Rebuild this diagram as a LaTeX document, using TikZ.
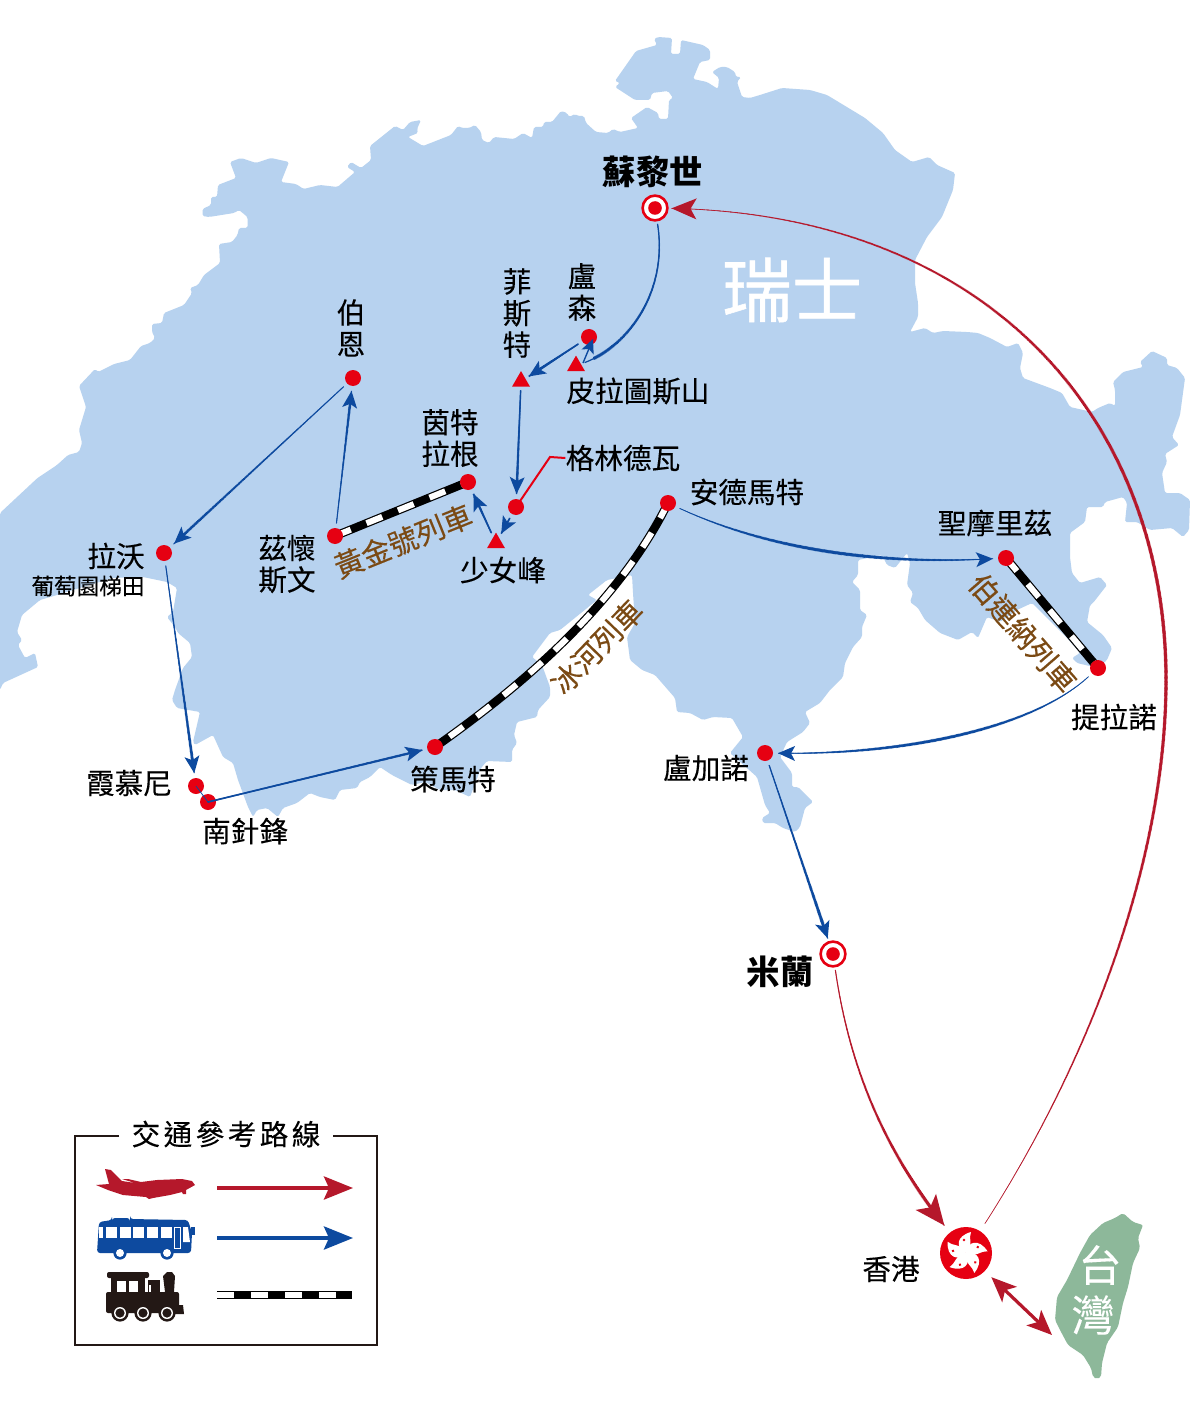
\documentclass[tikz,border=0pt]{standalone}
\usepackage{fontspec}
\setmainfont{Noto Sans CJK TC}[FakeBold=0.2,BoldFeatures={FakeBold=0}]
\usetikzlibrary{arrows.meta,shapes.geometric,decorations.markings}
\definecolor{mapblue}{HTML}{B7D2EF}
\definecolor{dotred}{HTML}{E60012}
\definecolor{airred}{HTML}{B5182B}
\definecolor{busblue}{HTML}{0D4A9F}
\definecolor{trainbrown}{HTML}{7B4A14}
\definecolor{twgreen}{HTML}{8DB89A}
\definecolor{inkdark}{HTML}{231815}
\pgfdeclarelayer{bg}
\pgfsetlayers{bg,main}
\tikzset{
  dotn/.style={circle,fill=dotred,minimum size=8pt,inner sep=0pt,outer sep=2.5pt},
  trin/.style={regular polygon,regular polygon sides=3,fill=dotred,minimum size=10.4pt,inner sep=0pt,outer sep=2pt},
  targetn/.style={circle,draw=dotred,line width=1.3pt,fill=white,minimum size=12.4pt,inner sep=0pt,outer sep=2pt,
    path picture={\fill[dotred] (path picture bounding box.center) circle (3.4pt);}},
  lab/.style={inner sep=0pt,font=\fontsize{14.3}{15.8}\selectfont,align=center,text=black},
  smalllab/.style={inner sep=0pt,font=\fontsize{11.3}{12}\selectfont,text=black},
  boldlab/.style={inner sep=0pt,font=\fontsize{16.7}{18}\selectfont\bfseries,text=black},
  brownlab/.style={inner sep=0pt,font=\fontsize{14.6}{16}\selectfont,text=trainbrown},
  whitelab/.style={inner sep=0pt,font=\fontsize{21.5}{22}\selectfont,text=white},
  train/.style={draw=black,line width=4.2pt,postaction={draw=white,line width=3pt,dash pattern=on 8.5pt off 8.5pt}},
  headmark/.style n args={4}{postaction={decorate,decoration={markings,
    mark=at position 0.9999 with {%
      \pgfsetfillcolor{#4}%
      \pgfpathmoveto{\pgfpointorigin}%
      \pgfpathlineto{\pgfpoint{-#1pt}{#2pt/2}}%
      \pgfpathlineto{\pgfpoint{-#1pt+#3pt}{0pt}}%
      \pgfpathlineto{\pgfpoint{-#1pt}{-#2pt/2}}%
      \pgfpathclose\pgfusepath{fill}}}}},
  bushead/.style={headmark={8.5}{7.5}{2}{busblue}},
  airhead/.style={headmark={12.5}{10.5}{3}{airred}},
  bighead/.style={headmark={15}{13}{3.5}{airred}},
  taper/.style n args={3}{line width=#1pt,draw=#3,postaction={decorate,decoration={markings,
    mark=between positions 0 and -5pt step .6pt with {%
      \pgfmathsetmacro\tapf{\pgfkeysvalueof{/pgf/decoration/mark info/distance from start}/\pgfdecoratedpathlength}%
      \pgfmathsetmacro\tapr{0.5*(#1+(#2-#1)*\tapf)}%
      \pgfsetfillcolor{#3}\pgfpathcircle{\pgfpointorigin}{\tapr pt}\pgfusepath{fill}}}}},
  spindle/.style n args={3}{line width=#1pt,draw=#3,postaction={decorate,decoration={markings,
    mark=between positions 0 and -5pt step .6pt with {%
      \pgfmathsetmacro\tapf{\pgfkeysvalueof{/pgf/decoration/mark info/distance from start}/\pgfdecoratedpathlength}%
      \pgfmathsetmacro\tapr{0.5*(#1+(#2-#1)*sin(180*\tapf))}%
      \pgfsetfillcolor{#3}\pgfpathcircle{\pgfpointorigin}{\tapr pt}\pgfusepath{fill}}}}},
}
\begin{document}
\begin{tikzpicture}[x=0.5pt,y=-0.5pt]
\useasboundingbox (0,0) rectangle (1200,1417);
% ---- points of the route
\node[targetn] (zur) at (655,208) {};
\node[targetn] (mil) at (833,954) {};
\node[dotn] (ber) at (353,378) {};
\node[dotn] (int) at (468,482) {};
\node[dotn] (zwe) at (335,536) {};
\node[dotn] (lav) at (164,553) {};
\node[dotn] (cha) at (196,786) {};
\node[dotn] (aig) at (208,802) {};
\node[dotn] (zer) at (435,747) {};
\node[dotn] (and) at (668,503) {};
\node[dotn] (smo) at (1006,558) {};
\node[dotn] (tir) at (1098,668) {};
\node[dotn] (lug) at (765,753) {};
\node[dotn] (gri) at (516,507) {};
\node[dotn] (luz) at (589,337) {};
\node[trin] (fie) at (521,381.5) {};
\node[trin] (pil) at (576,366) {};
\node[trin] (jun) at (496,543) {};
\node[circle,fill=dotred,minimum size=26pt,inner sep=0pt,outer sep=4.5pt] (hkg) at (966,1253) {};
\foreach \a in {0,72,144,216,288}{
  \begin{scope}[shift={(966,1253)},rotate=\a]
    \fill[white] (0,0) .. controls (-11,-5) and (-10,-17) .. (5,-21) .. controls (2,-15) and (8,-8) .. (0,0) -- cycle;
    \fill[dotred] (-2,-13) circle (0.7pt);
  \end{scope}}
% ---- map, trains
\begin{pgfonlayer}{bg}
\fill[white] (0,0) rectangle (1200,1417);
\fill[mapblue,rounded corners=0.8pt] (0,513) -- (37.5,478) -- (57,465) -- (68,455) -- (79,452) -- (82,443) -- (79,430) -- (86,407) -- (79,386) -- (95,369) -- (98,372) -- (114,364) -- (130,360) -- (141,346) -- (150,343) -- (155,338) -- (152,332) -- (152,324) -- (162,323) -- (164,313) -- (184,305) -- (192,293) -- (190,288) -- (198,285) -- (204,275) -- (220,263) -- (219,244) -- (232,242) -- (237.5,235) -- (239,228) -- (247.5,228) -- (247.5,217) -- (239,210) -- (234,213) -- (209,217) -- (202.5,216) -- (202.5,209) -- (211,205) -- (211,197) -- (217,197) -- (218,185) -- (236,178) -- (230,162) -- (241,158) -- (256,163) -- (271,158) -- (289,162) -- (281,182) -- (296,184) -- (303.5,189) -- (320,185) -- (337.5,187) -- (355,172) -- (347,167) -- (351,162) -- (361,168) -- (371,160) -- (370,146) -- (395,126) -- (403,130) -- (410,122) -- (421,120) -- (417,129) -- (418,133) -- (408,137) -- (423,146) -- (451,135) -- (458,126) -- (462,128) -- (469,128) -- (475,125) -- (481,132) -- (482,140) -- (489,143) -- (494,137) -- (514,139) -- (523,133) -- (532,138) -- (534,127) -- (543,127) -- (544,122) -- (552,122) -- (561,111) -- (567,113) -- (569,117) -- (575,114) -- (578,116) -- (584,116) -- (586,123) -- (596,132) -- (608,133) -- (613,129) -- (620,132) -- (638,128) -- (631,118) -- (647,107) -- (658,113) -- (659,119) -- (668,119) -- (669,100) -- (673,98) -- (668,91) -- (652,93) -- (650,100) -- (635,100) -- (615,87) -- (620,83) -- (615,81) -- (636,51) -- (657,45) -- (654,39) -- (658,37) -- (672,38) -- (671,54) -- (680,54) -- (681,40) -- (703,45) -- (710,50) -- (710,60) -- (700,62) -- (693,79) -- (707,82) -- (718,89) -- (719,78) -- (712,72) -- (720,67) -- (727,67) -- (735,72) -- (736,77) -- (741,77) -- (737,82) -- (742,97) -- (750,98) -- (760,95) -- (782,88) -- (810,90) -- (827,95) -- (865,118) -- (883,133) -- (895,150) -- (912,162) -- (929,157) -- (937,165) -- (955,173) -- (953,190) -- (942,217) -- (927,237) -- (915,260) -- (915,283) -- (918,303) -- (918,317) -- (910,332) -- (925,328) -- (933,333) -- (943,331) -- (967,332) -- (978,333) -- (990,338) -- (1007,347) -- (1018,343) -- (1023,353) -- (1020,368) -- (1023,378) -- (1050,388) -- (1062,393) -- (1070,407) -- (1092,412) -- (1098,408) -- (1110,403) -- (1115,406) -- (1115,390) -- (1113,382) -- (1123,372) -- (1143,367) -- (1140,362) -- (1152,351) -- (1167,358) -- (1167,365) -- (1177,368) -- (1185,378) -- (1180,415) -- (1172,437) -- (1179,445) -- (1165,454) -- (1167,462) -- (1162,473) -- (1165,493) -- (1180,493) -- (1190,500) -- (1189,530) -- (1183,537) -- (1172,528) -- (1150,530) -- (1137,522) -- (1125,522) -- (1127,503) -- (1123,497) -- (1105,502) -- (1103,507) -- (1087,507) -- (1085,522) -- (1070,533) -- (1070,557) -- (1072,573) -- (1080,583) -- (1100,577) -- (1107,585) -- (1093,603) -- (1090,605) -- (1087,622) -- (1103,635) -- (1112,648) -- (1107,660) -- (1098,668) -- (1077,663) -- (1072,658) -- (1080,653) -- (1067,638) -- (1032,603) -- (1017,610) -- (1000,622) -- (987,617) -- (978,638) -- (972,632) -- (958,640) -- (940,633) -- (925,620) -- (918,608) -- (910,602) -- (913,593) -- (907,585) -- (910,563) -- (907,553) -- (895,568) -- (887,565) -- (882,555) -- (858,560) -- (858,575) -- (852,582) -- (860,590) -- (860,610) -- (867,615) -- (862,627) -- (862,637) -- (853,647) -- (845,663) -- (843,677) -- (830,690) -- (820,703) -- (805,712) -- (810,723) -- (803,732) -- (787,742) -- (780,757) -- (792,773) -- (792,787) -- (798,787) -- (813,802) -- (805,808) -- (800,827) -- (795,832) -- (783,828) -- (775,823) -- (763,823) -- (762,818) -- (770,813) -- (765,805) -- (757,777) -- (730,753) -- (743,737) -- (732,718) -- (713,717) -- (703,720) -- (690,713) -- (677,712) -- (675,698) -- (655,675) -- (642,670) -- (630,660) -- (627,637) -- (635,623) -- (633,593) -- (632,575) -- (607,580) -- (588,595) -- (597,600) -- (560,630) -- (550,633) -- (532,657) -- (542,665) -- (550,687) -- (550,697) -- (538,710) -- (537,717) -- (517,722) -- (514,735) -- (517,743) -- (512,750) -- (512,762) -- (487,761) -- (481,768) -- (470,797) -- (455,790) -- (440,790) -- (425,782) -- (412,785) -- (392,775) -- (380,767) -- (370,777) -- (360,782) -- (357,788) -- (340,790) -- (335,800) -- (320,797) -- (310,793) -- (297,803) -- (283,808) -- (278,817) -- (267,808) -- (257,810) -- (253,817) -- (248,807) -- (238,780) -- (233,763) -- (223,757) -- (213,735) -- (195,745) -- (193,742) -- (200,712) -- (177,708) -- (172,700) -- (175,690) -- (183,668) -- (192,657) -- (190,643) -- (178,633) -- (175,627) -- (167,617) -- (173,612) -- (177,588) -- (167,582) -- (143,577) -- (112,578) -- (57,595) -- (40,600) -- (22,615) -- (17,632) -- (22,640) -- (18,645) -- (25,658) -- (35,653) -- (38,667) -- (3,683) -- (0,690) -- cycle;
\path[train] (zwe.center) -- (int.center);
\path[train] (and.center) .. controls (620,600) and (530,680) .. (zer.center);
\path[train] (smo.center) -- (tir.center);
\end{pgfonlayer}
% ---- taiwan
\fill[twgreen,rounded corners=1pt] (1123,1213) -- (1133,1222) -- (1143,1225) -- (1138,1238) -- (1140,1248) -- (1133,1263) -- (1128,1287) -- (1123,1303) -- (1118,1327) -- (1107,1343) -- (1102,1363) -- (1101,1377) -- (1097,1379) -- (1093,1377) -- (1091,1368) -- (1083,1355) -- (1068,1345) -- (1060,1330) -- (1055,1320) -- (1057,1297) -- (1067,1280) -- (1080,1253) -- (1090,1235) -- (1103,1223) -- (1115,1218) -- cycle;
\coordinate (twn) at (1052,1335);
% ---- air routes
\draw[spindle={0.3}{1.9}{airred},airhead] (hkg) .. controls (1090,1060) and (1166,860) .. (1166,680) .. controls (1166,420) and (990,215) .. (zur);
\draw[taper={0.5}{2.1}{airred},bighead] (mil) .. controls (850,1070) and (885,1150) .. (hkg);
\draw[airred,line width=1.6pt,{Stealth[length=12.5pt,width=10.5pt,inset=3pt]}-{Stealth[length=12.5pt,width=10.5pt,inset=3pt]}] (hkg) -- (twn);
% ---- coach routes
\draw[taper={0.6}{1.9}{busblue}] (zur) .. controls (668,290) and (630,345) .. (pil);
\coordinate (pilA) at (583,363);
\coordinate (luzA) at (593,339);
\draw[line width=.7pt,busblue,-{Stealth[length=7pt,width=6.5pt,inset=1.6pt]}] (pilA) -- (luzA);
\draw[taper={0.8}{1.9}{busblue},bushead] (luz) -- (fie);
\draw[taper={0.7}{1.6}{busblue},bushead] (fie) -- (gri);
\draw[taper={0.8}{1.7}{busblue},bushead] (gri) -- (jun);
\draw[taper={0.8}{1.7}{busblue},bushead] (jun) -- (int);
\draw[taper={0.5}{1.6}{busblue},bushead] (zwe) -- (ber);
\draw[taper={0.5}{1.7}{busblue},bushead] (ber) -- (lav);
\draw[taper={0.5}{1.7}{busblue},bushead] (lav) -- (cha);
\draw[line width=.4pt,busblue] (cha.center) -- (aig.center);
\draw[taper={0.8}{1.4}{busblue},bushead] (aig.center) -- (zer);
\draw[spindle={0.4}{1.8}{busblue},bushead] (and) .. controls (770,550) and (880,565) .. (smo);
\draw[spindle={0.4}{1.7}{busblue},bushead] (tir) .. controls (1030,730) and (900,755) .. (lug);
\draw[taper={0.6}{1.9}{busblue},bushead] (lug) -- (mil);
% ---- labels
\node[boldlab] (lzur) at (653,172) {蘇黎世};
\node[boldlab] (lmil) at (780,972) {米蘭};
\node[inner sep=0pt,font=\fontsize{35}{36}\selectfont\addfontfeature{FakeBold=0.8},text=white] (lch) at (792,290) {瑞士};
\node[lab] (lluz) at (582,292) {盧\\森};
\node[lab] (lfie) at (517,313) {菲\\斯\\特};
\node[lab] (lpil) at (638,391) {皮拉圖斯山};
\node[lab] (lber) at (351,328) {伯\\恩};
\node[lab] (lint) at (450,438) {茵特\\拉根};
\node[lab] (lgri) at (623,458) {格林德瓦};
\node[lab] (land) at (747,492) {安德馬特};
\node[lab] (ljun) at (503,570) {少女峰};
\node[lab] (lzwe) at (287,564) {茲懷\\斯文};
\node[lab] (llav) at (116,556) {拉沃};
\node[smalllab] (llav2) at (88,586) {葡萄園梯田};
\node[lab] (lcha) at (129,783) {霞慕尼};
\node[lab] (laig) at (245,831) {南針鋒};
\node[lab] (lzer) at (453,779) {策馬特};
\node[lab] (llug) at (706,768) {盧加諾};
\node[lab] (lsmo) at (995,523) {聖摩里茲};
\node[lab] (ltir) at (1114,717) {提拉諾};
\node[lab] (lhkg) at (891,1269) {香港};
\node[whitelab] (ltw1) at (1100,1265) {台};
\node[whitelab] (ltw2) at (1093,1315) {灣};
\node[brownlab,rotate=22] (tr1) at (403,541) {黃金號列車};
\node[brownlab,rotate=46] (tr2) at (597,647) {冰河列車};
\node[brownlab,rotate=-49] (tr3) at (1023,633) {伯連納列車};
\coordinate (griB) at (550,457);
\draw[dotred,line width=1pt] (gri.center) -- (griB) -- (lgri.west);
% ---- legend
\node[inner sep=0pt,font=\fontsize{14.3}{15}\selectfont\addfontfeature{LetterSpace=12}] (ltitle) at (226,1134) {交通參考路線};
\draw[inkdark,line width=1pt] (119,1136) -- (75,1136) -- (75,1345) -- (377,1345) -- (377,1136) -- (333,1136);
\coordinate (a1) at (217,1188); \coordinate (a2) at (353,1188);
\coordinate (b1) at (217,1238); \coordinate (b2) at (353,1238);
\coordinate (c1) at (217,1295); \coordinate (c2) at (352,1295);
\draw[airred,line width=2pt,-{Stealth[length=14.5pt,width=11.5pt,inset=2.5pt]}] (a1) -- (a2);
\draw[busblue,line width=2pt,-{Stealth[length=14.5pt,width=11.5pt,inset=2.5pt]}] (b1) -- (b2);
\path[train] (c1) -- (c2);
% plane icon
\fill[airred] (105,1169) -- (111,1170) -- (122,1181) -- (135,1183) -- (122,1179) -- (128,1179) -- (141,1182) -- (157,1180) -- (182,1179) -- (192,1181) -- (195,1185) -- (186,1190) -- (186,1194) -- (183,1194) -- (182,1192) -- (170,1195) -- (153,1198) -- (149,1199) -- (146,1197) -- (123,1195) -- (108,1190) -- (96,1185) -- (109,1184) -- cycle;
% coach icon
\fill[busblue,rounded corners=1.5pt] (97,1253) -- (99,1222) -- (112,1220) -- (112,1218) -- (130,1218) -- (130,1219) -- (188,1220) -- (192,1233) -- (191,1253) -- cycle;
\fill[busblue] (191,1227) rectangle (195,1235);
\foreach \wx in {106,120,133,147,161}{\fill[white] (\wx,1227) rectangle +(11,11);}
\fill[white] (99,1227) rectangle (103,1238);
\draw[white,line width=.3pt] (174,1227) rectangle (180,1248);
\fill[white] (183,1227) -- (188,1227) -- (190,1242) -- (183,1242) -- cycle;
\foreach \wx in {120,167}{\fill[busblue] (\wx,1253) circle (3.3pt); \fill[white] (\wx,1253) circle (2pt);}
% locomotive icon
\fill[inkdark,rounded corners=1pt] (107,1272) rectangle (149,1278);
\fill[inkdark] (111,1277) rectangle (145,1292);
\fill[white] (117,1281) rectangle (126,1294);
\fill[white] (129,1281) rectangle (138,1294);
\fill[inkdark,rounded corners=1pt] (106,1292) rectangle (179,1313);
\fill[inkdark] (148,1280) rectangle (160,1292);
\fill[white] (149,1285) rectangle (151,1292);
\fill[inkdark] (153,1282) -- (157,1282) -- (159,1286) -- (159,1292) -- (151,1292) -- (151,1286) -- cycle;
\fill[inkdark] (167,1272) -- (172,1272) -- (175,1276) -- (174,1292) -- (165,1292) -- (163,1276) -- cycle;
\fill[inkdark] (176,1305) -- (183,1305) -- (184,1314) -- (165,1314) -- cycle;
\foreach \wx in {120,143,167}{\fill[inkdark] (\wx,1313) circle (4.3pt); \fill[white] (\wx,1313) circle (3pt); \fill[inkdark] (\wx,1313) circle (2.3pt);}
\end{tikzpicture}
\end{document}
